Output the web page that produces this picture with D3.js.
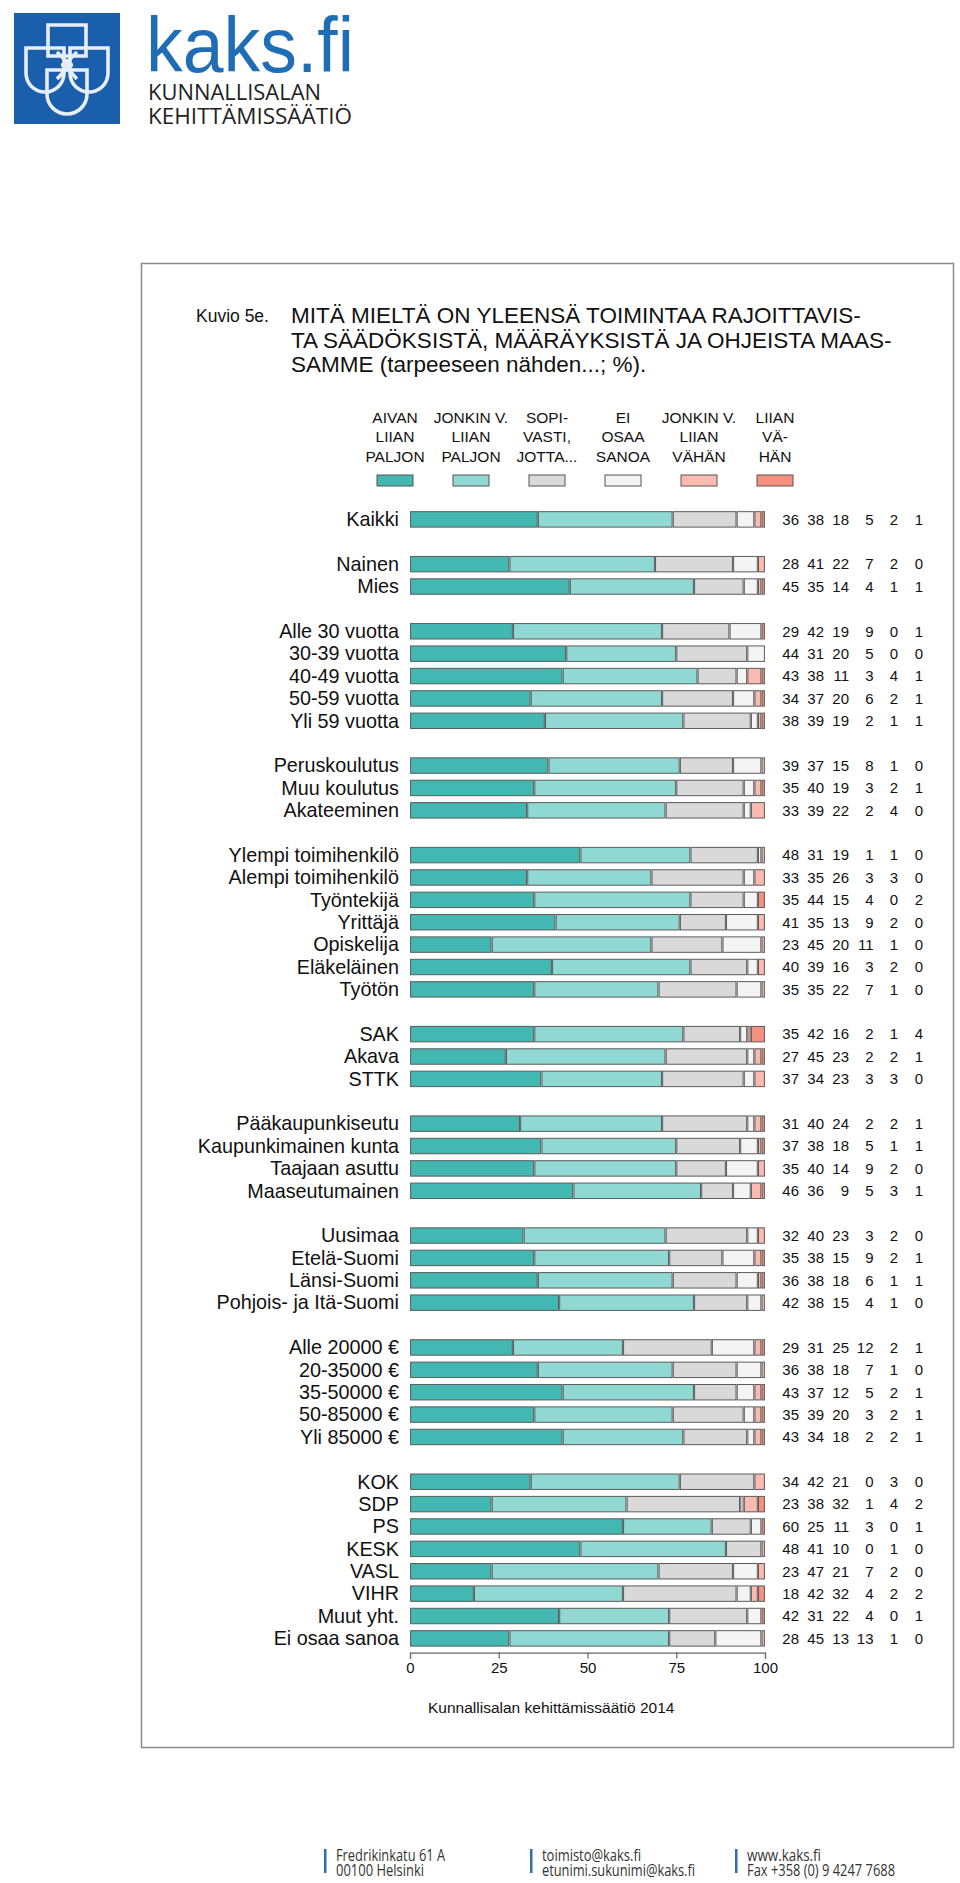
<!DOCTYPE html>
<html>
<head>
<meta charset="utf-8">
<script src="https://cdn.jsdelivr.net/npm/d3@7"></script>
<style>
body { margin: 0; background: #fff; }
svg text { font-family: "Liberation Sans", Arial, sans-serif; fill: #111; }
</style>
</head>
<body>
<svg id="page" width="960" height="1883"></svg>
<script>
// response options (legend), three lines each
var seriesLabels = [
    ["AIVAN", "LIIAN", "PALJON"],
    ["JONKIN V.", "LIIAN", "PALJON"],
    ["SOPI-", "VASTI,", "JOTTA..."],
    ["EI", "OSAA", "SANOA"],
    ["JONKIN V.", "LIIAN", "VÄHÄN"],
    ["LIIAN", "VÄ-", "HÄN"]
];
var seriesColors = ["#43b7b2", "#8fd8d3", "#d9d9d9", "#f4f4f4", "#fbbaaf", "#f6907f"];

// row groups (a blank row goes between groups)
var groups = [
    ["Kaikki"],
    ["Nainen", "Mies"],
    ["Alle 30 vuotta", "30-39 vuotta", "40-49 vuotta", "50-59 vuotta", "Yli 59 vuotta"],
    ["Peruskoulutus", "Muu koulutus", "Akateeminen"],
    ["Ylempi toimihenkilö", "Alempi toimihenkilö", "Työntekijä", "Yrittäjä", "Opiskelija", "Eläkeläinen", "Työtön"],
    ["SAK", "Akava", "STTK"],
    ["Pääkaupunkiseutu", "Kaupunkimainen kunta", "Taajaan asuttu", "Maaseutumainen"],
    ["Uusimaa", "Etelä-Suomi", "Länsi-Suomi", "Pohjois- ja Itä-Suomi"],
    ["Alle 20000 €", "20-35000 €", "35-50000 €", "50-85000 €", "Yli 85000 €"],
    ["KOK", "SDP", "PS", "KESK", "VASL", "VIHR", "Muut yht.", "Ei osaa sanoa"]
];

// % values per row, same order as the rows above
var values = [
    [36, 38, 18, 5, 2, 1],
    [28, 41, 22, 7, 2, 0],
    [45, 35, 14, 4, 1, 1],
    [29, 42, 19, 9, 0, 1],
    [44, 31, 20, 5, 0, 0],
    [43, 38, 11, 3, 4, 1],
    [34, 37, 20, 6, 2, 1],
    [38, 39, 19, 2, 1, 1],
    [39, 37, 15, 8, 1, 0],
    [35, 40, 19, 3, 2, 1],
    [33, 39, 22, 2, 4, 0],
    [48, 31, 19, 1, 1, 0],
    [33, 35, 26, 3, 3, 0],
    [35, 44, 15, 4, 0, 2],
    [41, 35, 13, 9, 2, 0],
    [23, 45, 20, 11, 1, 0],
    [40, 39, 16, 3, 2, 0],
    [35, 35, 22, 7, 1, 0],
    [35, 42, 16, 2, 1, 4],
    [27, 45, 23, 2, 2, 1],
    [37, 34, 23, 3, 3, 0],
    [31, 40, 24, 2, 2, 1],
    [37, 38, 18, 5, 1, 1],
    [35, 40, 14, 9, 2, 0],
    [46, 36, 9, 5, 3, 1],
    [32, 40, 23, 3, 2, 0],
    [35, 38, 15, 9, 2, 1],
    [36, 38, 18, 6, 1, 1],
    [42, 38, 15, 4, 1, 0],
    [29, 31, 25, 12, 2, 1],
    [36, 38, 18, 7, 1, 0],
    [43, 37, 12, 5, 2, 1],
    [35, 39, 20, 3, 2, 1],
    [43, 34, 18, 2, 2, 1],
    [34, 42, 21, 0, 3, 0],
    [23, 38, 32, 1, 4, 2],
    [60, 25, 11, 3, 0, 1],
    [48, 41, 10, 0, 1, 0],
    [23, 47, 21, 7, 2, 0],
    [18, 42, 32, 4, 2, 2],
    [42, 31, 22, 4, 0, 1],
    [28, 45, 13, 13, 1, 0]
];

var xTicks = [0, 25, 50, 75, 100];

var titleLines = [
    "MITÄ MIELTÄ ON YLEENSÄ TOIMINTAA RAJOITTAVIS-",
    "TA SÄÄDÖKSISTÄ, MÄÄRÄYKSISTÄ JA OHJEISTA MAAS-",
    "SAMME (tarpeeseen nähden...; %)."
];

var footerCols = [
    ["Fredrikinkatu 61 A", "00100 Helsinki"],
    ["toimisto@kaks.fi", "etunimi.sukunimi@kaks.fi"],
    ["www.kaks.fi", "Fax +358 (0) 9 4247 7688"]
];

var svg = d3.select('#page');

// ---------- logo ----------
var logo = svg.append('g').attr('class', 'logo');
logo.append('rect')
    .attr('x', 14).attr('y', 13)
    .attr('width', 106).attr('height', 111)
    .attr('fill', '#1a5fac');

var shield = function(x0, x1, top, bottom) {
    var r = (x1 - x0) / 2;
    return `M${x0},${top} L${x1},${top} L${x1},${bottom - r} A${r},${r} 0 0 1 ${x0},${bottom - r} Z`;
};
var sym = logo.append('g')
    .attr('fill', 'none')
    .attr('stroke', '#e8eef7')
    .attr('stroke-width', 3.6);
sym.append('path').attr('d', `M48,25 L86,25 L86,56 L48,56 Z`);
sym.append('path').attr('d', shield(26, 64, 48, 92));
sym.append('path').attr('d', shield(70, 108, 48, 92));
sym.append('path').attr('d', shield(47, 87, 70, 114));
sym.append('path').attr('d', 'M57,52 L67,62 L77,52 M57,79 L67,68 L77,79 M61,65 L73,65');

logo.append('text')
    .attr('x', 146).attr('y', 72)
    .attr('textLength', 208).attr('lengthAdjust', 'spacingAndGlyphs')
    .style('font-size', '78px')
    .style('fill', '#1f6db5')
    .text('kaks.fi');
logo.append('text')
    .attr('x', 148).attr('y', 100)
    .attr('textLength', 173).attr('lengthAdjust', 'spacingAndGlyphs')
    .style('font-family', '"Open Sans", sans-serif')
    .style('font-size', '22px')
    .style('fill', '#222')
    .text('KUNNALLISALAN');
logo.append('text')
    .attr('x', 148).attr('y', 124)
    .attr('textLength', 204).attr('lengthAdjust', 'spacingAndGlyphs')
    .style('font-family', '"Open Sans", sans-serif')
    .style('font-size', '22px')
    .style('fill', '#222')
    .text('KEHITTÄMISSÄÄTIÖ');

// ---------- frame + title ----------
svg.append('rect')
    .attr('x', 141.5).attr('y', 263.5)
    .attr('width', 812).attr('height', 1484)
    .attr('fill', 'none')
    .attr('stroke', '#8a8a8a')
    .attr('stroke-width', 1.5);

svg.append('text')
    .attr('x', 196).attr('y', 322)
    .style('font-size', '17.5px')
    .text('Kuvio 5e.');

svg.selectAll('text.title')
    .data(titleLines)
    .enter()
    .append('text')
    .attr('class', 'title')
    .attr('x', 291)
    .attr('y', (d, i) => 323 + i * 24.5)
    .style('font-size', '22.5px')
    .text(d => d);

// ---------- legend ----------
var legendX = d3.scalePoint()
    .domain(d3.range(seriesLabels.length))
    .range([395, 775]);

var legend = svg.append('g').attr('class', 'legend');
seriesLabels.forEach(function(lines, i) {
    legend.selectAll(null)
        .data(lines)
        .enter()
        .append('text')
        .attr('x', legendX(i))
        .attr('y', (d, j) => 423 + j * 19.3)
        .attr('text-anchor', 'middle')
        .style('font-size', '15.5px')
        .text(d => d);
    legend.append('rect')
        .attr('x', legendX(i) - 18)
        .attr('y', 475)
        .attr('width', 36)
        .attr('height', 11)
        .attr('fill', seriesColors[i])
        .attr('stroke', '#555')
        .attr('stroke-width', 1);
});

// ---------- bars ----------
var rows = [];
var k = 0;
groups.forEach(function(g, gi) {
    if (gi > 0) rows.push({ id: 'gap' + gi, label: null });
    g.forEach(function(label) {
        rows.push({ id: 'r' + k, label: label, vals: values[k] });
        k++;
    });
});

var step = 22.38;
var yBand = d3.scaleBand()
    .domain(rows.map(d => d.id))
    .range([508.2, 508.2 + rows.length * step])
    .paddingInner(0.31)
    .paddingOuter(0.155);

var xScale = d3.scaleLinear()
    .domain([0, 100])
    .range([410, 765]);

var dataRows = rows.filter(d => d.label !== null);

var chart = svg.append('g').attr('class', 'chart');

chart.selectAll('text.rowLabel')
    .data(dataRows)
    .enter()
    .append('text')
    .attr('class', 'rowLabel')
    .attr('x', 399)
    .attr('y', d => yBand(d.id) + yBand.bandwidth() / 2 + 6.8)
    .attr('text-anchor', 'end')
    .style('font-size', '19.8px')
    .text(d => d.label);

var segs = [];
dataRows.forEach(function(r) {
    var cum = 0;
    r.vals.forEach(function(v, i) {
        if (v > 0) segs.push({ id: r.id, s: i, x0: cum, x1: cum + v });
        cum += v;
    });
});

chart.selectAll('rect.seg')
    .data(segs)
    .enter()
    .append('rect')
    .attr('class', 'seg')
    .attr('x', d => xScale(d.x0) + 0.6)
    .attr('y', d => yBand(d.id))
    .attr('width', d => Math.max(0.8, xScale(d.x1) - xScale(d.x0) - 1.2))
    .attr('height', yBand.bandwidth())
    .attr('fill', d => seriesColors[d.s])
    .attr('stroke', '#5b5b5b')
    .attr('stroke-width', 1);

// value columns on the right
var colX = [799, 824, 849, 873.5, 898, 923];
dataRows.forEach(function(r) {
    chart.selectAll(null)
        .data(r.vals)
        .enter()
        .append('text')
        .attr('x', (d, i) => colX[i])
        .attr('y', yBand(r.id) + yBand.bandwidth() / 2 + 5.3)
        .attr('text-anchor', 'end')
        .style('font-size', '15px')
        .text(d => d);
});

// x axis
var lastRow = dataRows[dataRows.length - 1];
var axisY = yBand(lastRow.id) + yBand.bandwidth() + 6.5;
var axis = chart.append('g')
    .attr('transform', `translate(0, ${axisY})`)
    .call(d3.axisBottom(xScale).tickValues(xTicks).tickSize(6).tickPadding(4));
axis.select('.domain').attr('stroke', '#666').attr('stroke-width', 1.2);
axis.selectAll('.tick line').attr('stroke', '#666').attr('stroke-width', 1.2);
axis.selectAll('.tick text')
    .style('font-family', '"Liberation Sans", Arial, sans-serif')
    .style('font-size', '15px')
    .attr('fill', '#111');

svg.append('text')
    .attr('x', 428).attr('y', 1713)
    .style('font-size', '15.5px')
    .text('Kunnallisalan kehittämissäätiö 2014');

// ---------- footer ----------
var footX = [324, 530, 735];
var footW = [[109, 88], [99, 153], [74, 148]];
footerCols.forEach(function(lines, i) {
    svg.append('rect')
        .attr('x', footX[i]).attr('y', 1849)
        .attr('width', 2.5).attr('height', 24)
        .attr('fill', '#2d6fb1');
    svg.selectAll(null)
        .data(lines)
        .enter()
        .append('text')
        .attr('x', footX[i] + 12)
        .attr('y', (d, j) => 1861 + j * 15.3)
        .attr('textLength', (d, j) => footW[i][j])
        .attr('lengthAdjust', 'spacingAndGlyphs')
        .style('font-family', '"Open Sans", sans-serif')
        .style('font-size', '16px')
        .style('fill', '#333')
        .text(d => d);
});
</script>
</body>
</html>
